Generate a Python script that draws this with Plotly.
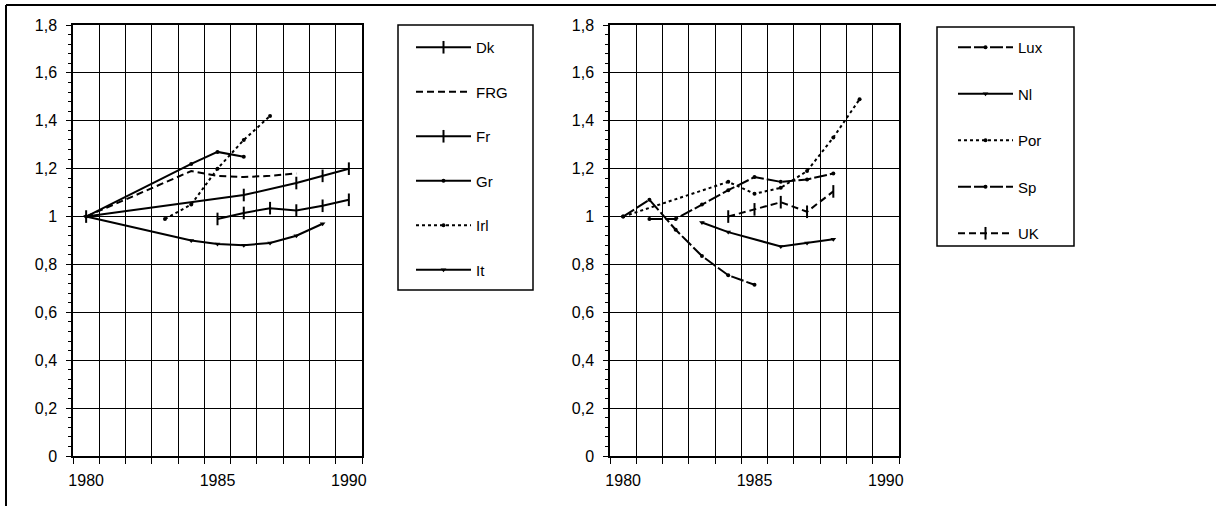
import plotly.graph_objects as go

# ---- data: left panel ----
dk_years = [1985, 1986, 1987, 1988, 1989, 1990]
dk_vals = [0.99, 1.015, 1.035, 1.025, 1.045, 1.07]
frg_years = [1980, 1984, 1985, 1986, 1987, 1988]
frg_vals = [1.0, 1.19, 1.17, 1.165, 1.17, 1.18]
fr_years = [1980, 1986, 1988, 1989, 1990]
fr_vals = [1.0, 1.09, 1.14, 1.17, 1.2]
gr_years = [1980, 1984, 1985, 1986]
gr_vals = [1.0, 1.22, 1.27, 1.25]
irl_years = [1983, 1984, 1985, 1986, 1987]
irl_vals = [0.99, 1.05, 1.2, 1.32, 1.42]
it_years = [1980, 1984, 1985, 1986, 1987, 1988, 1989]
it_vals = [1.0, 0.9, 0.885, 0.88, 0.89, 0.92, 0.97]

# ---- data: right panel ----
lux_years = [1980, 1981, 1982, 1983, 1984, 1985]
lux_vals = [1.0, 1.07, 0.945, 0.835, 0.755, 0.715]
nl_years = [1983, 1984, 1986, 1987, 1988]
nl_vals = [0.975, 0.935, 0.875, 0.89, 0.905]
por_years = [1980, 1984, 1985, 1986, 1987, 1988, 1989]
por_vals = [1.0, 1.145, 1.095, 1.12, 1.19, 1.33, 1.49]
sp_years = [1981, 1982, 1983, 1984, 1985, 1986, 1987, 1988]
sp_vals = [0.99, 0.99, 1.05, 1.11, 1.165, 1.145, 1.155, 1.18]
uk_years = [1984, 1985, 1986, 1987, 1988]
uk_vals = [1.0, 1.03, 1.06, 1.02, 1.105]

# ---- axis labels ----
y_ticks = [0, 0.2, 0.4, 0.6, 0.8, 1.0, 1.2, 1.4, 1.6, 1.8]
y_labels = ["0", "0,2", "0,4", "0,6", "0,8", "1", "1,2", "1,4", "1,6", "1,8"]
x_ticks = [1980, 1985, 1990]
x_labels = ["1980", "1985", "1990"]
year_edges = [1979.5 + i for i in range(12)]

W, H = 1216, 506
FONT = "Liberation Sans, Arial, sans-serif"

# marker / line styles
TICK = dict(symbol="line-ns", size=9, color="black", line=dict(width=2, color="black"))
DOT = dict(symbol="circle", size=4, color="black")
TRI = dict(symbol="triangle-down", size=5, color="black")
NONE = dict(size=0.1, opacity=0)

fig = go.Figure()


def add(name, xs, ys, dash, marker, xa, ya, leg):
    fig.add_trace(go.Scatter(
        x=xs, y=ys, name=name, mode="lines+markers",
        line=dict(color="black", width=2, dash=dash),
        marker=marker, xaxis=xa, yaxis=ya, legend=leg, legendgroup=name,
    ))


add("Dk", dk_years, dk_vals, "solid", TICK, "x", "y", "legend")
add("FRG", frg_years, frg_vals, "7px,4px", NONE, "x", "y", "legend")
add("Fr", fr_years, fr_vals, "solid", TICK, "x", "y", "legend")
add("Gr", gr_years, gr_vals, "solid", DOT, "x", "y", "legend")
add("Irl", irl_years, irl_vals, "3px,3px", DOT, "x", "y", "legend")
add("It", it_years, it_vals, "solid", TRI, "x", "y", "legend")

add("Lux", lux_years, lux_vals, "13px,3px", DOT, "x2", "y2", "legend2")
add("Nl", nl_years, nl_vals, "solid", TRI, "x2", "y2", "legend2")
add("Por", por_years, por_vals, "3px,3px", DOT, "x2", "y2", "legend2")
add("Sp", sp_years, sp_vals, "13px,3px", DOT, "x2", "y2", "legend2")
add("UK", uk_years, uk_vals, "7px,4px", TICK, "x2", "y2", "legend2")


def xaxis(domain, anchor):
    return dict(
        domain=domain, anchor=anchor, range=[1979.5, 1990.5], automargin=False,
        tickmode="array", tickvals=x_ticks, ticktext=x_labels,
        ticks="", showgrid=False, zeroline=False,
        showline=True, mirror=True, linecolor="black", linewidth=1.5,
        ticklabelstandoff=9,
        tickfont=dict(family=FONT, size=16, color="black"),
        minor=dict(tickmode="array", tickvals=year_edges, showgrid=True,
                   gridcolor="black", gridwidth=1.3, ticks="outside",
                   ticklen=6, tickcolor="black", tickwidth=1.3),
    )


def yaxis(domain, anchor):
    return dict(
        domain=domain, anchor=anchor, range=[0, 1.8], automargin=False,
        tickmode="array", tickvals=y_ticks, ticktext=y_labels,
        showgrid=True, gridcolor="black", gridwidth=1.3, zeroline=False,
        showline=True, mirror=True, linecolor="black", linewidth=1.5,
        ticks="outside", ticklen=5, tickcolor="black", tickwidth=1.3,
        ticklabelstandoff=6,
        tickfont=dict(family=FONT, size=16, color="black"),
        minor=dict(dtick=0.04, ticks="outside", ticklen=3,
                   tickcolor="black", tickwidth=1, showgrid=False),
    )


ydom = [(H - 456) / H, (H - 25) / H]
fig.update_layout(
    width=W, height=H,
    margin=dict(l=0, r=0, t=0, b=0, autoexpand=False),
    paper_bgcolor="white", plot_bgcolor="white",
    font=dict(family=FONT, size=15, color="black"),
    xaxis=xaxis([73 / W, 362 / W], "y"),
    yaxis=yaxis(ydom, "x"),
    xaxis2=xaxis([610 / W, 899 / W], "y2"),
    yaxis2=yaxis(ydom, "x2"),
    legend=dict(x=411 / W, y=1 - 31 / H, xanchor="left", yanchor="top",
                bgcolor="rgba(0,0,0,0)", borderwidth=0, itemwidth=55,
                traceorder="grouped", tracegroupgap=22,
                font=dict(family=FONT, size=15, color="black")),
    legend2=dict(x=953 / W, y=1 - 31 / H, xanchor="left", yanchor="top",
                 bgcolor="rgba(0,0,0,0)", borderwidth=0, itemwidth=55,
                 traceorder="grouped", tracegroupgap=24,
                 font=dict(family=FONT, size=15, color="black")),
    shapes=[
        # legend frames
        dict(type="rect", xref="paper", yref="paper",
             x0=398 / W, x1=533 / W, y0=1 - 290 / H, y1=1 - 25 / H,
             line=dict(color="black", width=1.5)),
        dict(type="rect", xref="paper", yref="paper",
             x0=937 / W, x1=1074 / W, y0=1 - 246 / H, y1=1 - 27 / H,
             line=dict(color="black", width=1.5)),
        # outer page frame (top and left edges)
        dict(type="line", xref="paper", yref="paper",
             x0=6 / W, x1=1, y0=1 - 5 / H, y1=1 - 5 / H,
             line=dict(color="black", width=2)),
        dict(type="line", xref="paper", yref="paper",
             x0=6 / W, x1=6 / W, y0=0, y1=1 - 5 / H,
             line=dict(color="black", width=2)),
    ],
)

fig.write_html("out.html")
